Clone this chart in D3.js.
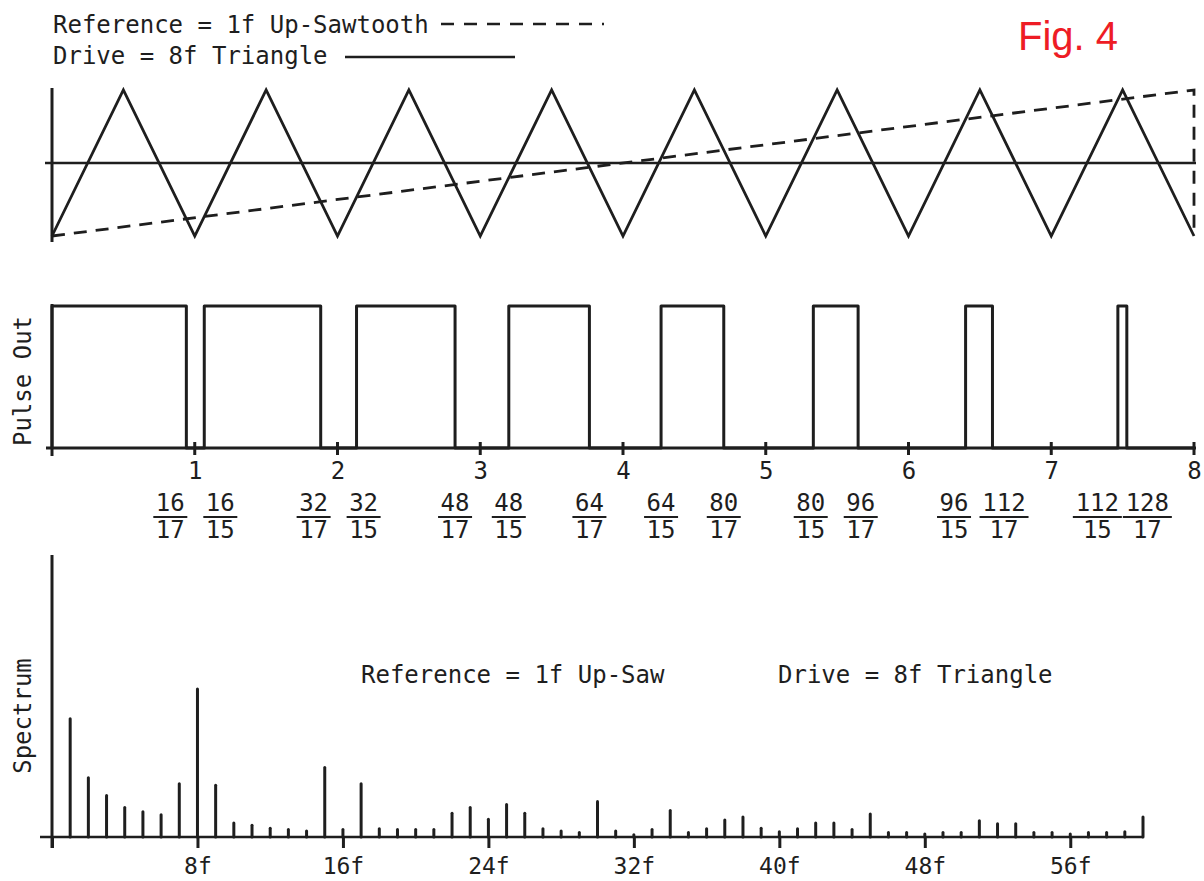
<!DOCTYPE html>
<html>
<head>
<meta charset="utf-8">
<script src="https://cdn.jsdelivr.net/npm/d3@7"></script>
<style>
  html, body { margin: 0; padding: 0; background: #ffffff; }
  svg { display: block; }
  .mono { font-family: "DejaVu Sans Mono", "Liberation Mono", monospace; fill: #1e1e1e; }
</style>
</head>
<body>
<svg id="fig" width="1204" height="881"></svg>
<script>
// ---- Waveforms (time in units of the 1f reference period / 8) ----
const driveTimes  = [0, 0.5, 1, 1.5, 2, 2.5, 3, 3.5, 4, 4.5, 5, 5.5, 6, 6.5, 7, 7.5, 8];
const driveLevels = [-1, 1, -1, 1, -1, 1, -1, 1, -1, 1, -1, 1, -1, 1, -1, 1, -1];
const refTimes    = [0, 8, 8];
const refLevels   = [-1, 1, -1];

// ---- Pulse edges: crossings of triangle and saw, as fractions ----
const edgeNumerators   = [16, 16, 32, 32, 48, 48, 64, 64, 80, 80, 96, 96, 112, 112, 128];
const edgeDenominators = [17, 15, 17, 15, 17, 15, 17, 15, 17, 15, 17, 15, 17, 15, 17];
const pulseStartLevel  = 1;
const timeTicks = [1, 2, 3, 4, 5, 6, 7, 8];

// ---- Spectrum: relative amplitude of harmonics 1f..60f ----
const harmonics = d3.range(1, 61);
const spectrumAmplitude = [
  0.80, 0.40, 0.28, 0.20, 0.17, 0.15, 0.36, 1.00, 0.35, 0.095,
  0.08, 0.06, 0.05, 0.04, 0.47, 0.05, 0.36, 0.055, 0.05, 0.05,
  0.05, 0.16, 0.20, 0.12, 0.22, 0.16, 0.055, 0.04, 0.03, 0.24,
  0.04, 0.015, 0.05, 0.18, 0.03, 0.055, 0.115, 0.135, 0.06, 0.035,
  0.055, 0.095, 0.095, 0.05, 0.155, 0.03, 0.03, 0.02, 0.03, 0.03,
  0.11, 0.09, 0.09, 0.03, 0.03, 0.02, 0.03, 0.03, 0.035, 0.135
];
const spectrumTicks = [0, 8, 16, 24, 32, 40, 48, 56];
const spectrumTickLabels = ["", "8f", "16f", "24f", "32f", "40f", "48f", "56f"];

const ink = "#1e1e1e";
const svg = d3.select("#fig");

// ---------- Legend and figure number ----------
svg.append("text").attr("class", "mono").attr("x", 53).attr("y", 33)
  .attr("font-size", 24).text("Reference = 1f Up-Sawtooth");
svg.append("text").attr("class", "mono").attr("x", 53).attr("y", 64)
  .attr("font-size", 24).text("Drive = 8f Triangle");
svg.append("line").attr("x1", 441).attr("x2", 604).attr("y1", 24).attr("y2", 24)
  .attr("stroke", ink).attr("stroke-width", 2.5).attr("stroke-dasharray", "13,10");
svg.append("line").attr("x1", 345).attr("x2", 515).attr("y1", 57).attr("y2", 57)
  .attr("stroke", ink).attr("stroke-width", 2.5);
svg.append("text").attr("x", 1018).attr("y", 50)
  .attr("font-family", "'Liberation Sans', Arial, sans-serif").attr("font-size", 40)
  .attr("fill", "#ee1c25").text("Fig. 4");

// ---------- Top panel: drive triangle vs reference saw ----------
const tx = d3.scaleLinear().domain([0, 8]).range([52, 1194]);
const wy = d3.scaleLinear().domain([-1, 1]).range([236, 90]);

const wavePanel = svg.append("g");
wavePanel.append("line").attr("x1", tx(0)).attr("x2", tx(0)).attr("y1", 88).attr("y2", 242)
  .attr("stroke", ink).attr("stroke-width", 3);
wavePanel.append("line").attr("x1", tx(0) - 7).attr("x2", tx(8) + 2).attr("y1", wy(0)).attr("y2", wy(0))
  .attr("stroke", ink).attr("stroke-width", 2.5);

const waveLine = d3.line().x(d => tx(d[0])).y(d => wy(d[1]));
wavePanel.append("path")
  .attr("d", waveLine(d3.zip(refTimes, refLevels)))
  .attr("fill", "none").attr("stroke", ink).attr("stroke-width", 2.8)
  .attr("stroke-dasharray", "13,9");
wavePanel.append("path")
  .attr("d", waveLine(d3.zip(driveTimes, driveLevels)))
  .attr("fill", "none").attr("stroke", ink).attr("stroke-width", 2.8)
  .attr("stroke-linejoin", "miter");

// ---------- Middle panel: pulse output ----------
const py = d3.scaleLinear().domain([0, 1]).range([448, 306]);
const edges = edgeNumerators.map((n, i) => n / edgeDenominators[i]);

// Build the step sequence from the edge times
const pulsePts = [[0, 0], [0, pulseStartLevel]];
let level = pulseStartLevel;
edges.forEach(t => {
  pulsePts.push([t, level]);
  level = 1 - level;
  pulsePts.push([t, level]);
});
pulsePts.push([8, level]);

const pulsePanel = svg.append("g");
pulsePanel.append("line").attr("x1", tx(0)).attr("x2", tx(0)).attr("y1", py(1) - 2).attr("y2", py(0) + 8)
  .attr("stroke", ink).attr("stroke-width", 3);
const tAxis = d3.axisBottom(tx).tickValues(timeTicks).tickSize(0).tickFormat(d3.format("d"));
const tAxisG = pulsePanel.append("g").attr("transform", `translate(0,${py(0)})`).call(tAxis);
tAxisG.select(".domain").remove();
tAxisG.selectAll("text").attr("class", "mono").attr("font-size", 24).attr("dy", 0).attr("y", 31)
  .attr("font-family", null);
pulsePanel.append("line").attr("x1", tx(0) - 6).attr("x2", tx(8) + 2).attr("y1", py(0)).attr("y2", py(0))
  .attr("stroke", ink).attr("stroke-width", 3);
pulsePanel.selectAll("line.tk").data(timeTicks).join("line").attr("class", "tk")
  .attr("x1", d => tx(d)).attr("x2", d => tx(d))
  .attr("y1", py(0) - 6).attr("y2", py(0) + 7)
  .attr("stroke", ink).attr("stroke-width", 3);
pulsePanel.append("path")
  .attr("d", d3.line().x(d => tx(d[0])).y(d => py(d[1]))(pulsePts))
  .attr("fill", "none").attr("stroke", ink).attr("stroke-width", 3)
  .attr("stroke-linejoin", "round");

svg.append("text").attr("class", "mono").attr("font-size", 24)
  .attr("text-anchor", "middle")
  .attr("transform", "translate(31,381) rotate(-90)").text("Pulse Out");

// Fraction labels: start at each edge, then push crowded neighbours apart
const minGap = 50;
const labelX = edges.map(t => tx(t));
for (let i = 0; i < labelX.length - 1; i++) {
  if (labelX[i + 1] - labelX[i] < minGap) {
    const m = (labelX[i] + labelX[i + 1]) / 2;
    labelX[i] = m - minGap / 2;
    labelX[i + 1] = m + minGap / 2;
  }
}
const frac = svg.append("g").selectAll("g").data(edges).join("g")
  .attr("transform", (d, i) => `translate(${labelX[i]},0)`);
frac.append("text").attr("class", "mono").attr("font-size", 24).attr("text-anchor", "middle")
  .attr("y", 511).text((d, i) => edgeNumerators[i]);
frac.append("line")
  .attr("x1", (d, i) => -(String(edgeNumerators[i]).length * 7.5 + 2))
  .attr("x2", (d, i) => (String(edgeNumerators[i]).length * 7.5 + 2))
  .attr("y1", 517).attr("y2", 517).attr("stroke", ink).attr("stroke-width", 2);
frac.append("text").attr("class", "mono").attr("font-size", 24).attr("text-anchor", "middle")
  .attr("y", 538).text((d, i) => edgeDenominators[i]);

// ---------- Bottom panel: spectrum ----------
const sx = d3.scaleLinear().domain([0, 60]).range([52, 1143]);
const sy = d3.scaleLinear().domain([0, 1.9]).range([837, 556]);

const specPanel = svg.append("g");
specPanel.append("line").attr("x1", sx(0)).attr("x2", sx(0)).attr("y1", 555).attr("y2", 848)
  .attr("stroke", ink).attr("stroke-width", 3);
specPanel.append("line").attr("x1", sx(0) - 12).attr("x2", sx(60)).attr("y1", sy(0)).attr("y2", sy(0))
  .attr("stroke", ink).attr("stroke-width", 2.5);

const sAxis = d3.axisBottom(sx).tickValues(spectrumTicks).tickSize(11)
  .tickFormat((d, i) => spectrumTickLabels[i]);
const sAxisG = specPanel.append("g").attr("transform", `translate(0,${sy(0)})`).call(sAxis);
sAxisG.select(".domain").remove();
sAxisG.selectAll(".tick line").attr("stroke", ink).attr("stroke-width", 3);
sAxisG.selectAll("text").attr("class", "mono").attr("font-size", 23)
  .attr("font-family", null).attr("y", 37).attr("dy", 0);

specPanel.selectAll("line.bar").data(harmonics).join("line").attr("class", "bar")
  .attr("x1", d => sx(d)).attr("x2", d => sx(d))
  .attr("y1", sy(0)).attr("y2", (d, i) => sy(spectrumAmplitude[i]))
  .attr("stroke", ink).attr("stroke-width", 3).attr("stroke-linecap", "round");

svg.append("text").attr("class", "mono").attr("font-size", 24)
  .attr("text-anchor", "middle")
  .attr("transform", "translate(31,716) rotate(-90)").text("Spectrum");
svg.append("text").attr("class", "mono").attr("font-size", 24)
  .attr("x", 361).attr("y", 683).text("Reference = 1f Up-Saw");
svg.append("text").attr("class", "mono").attr("font-size", 24)
  .attr("x", 778).attr("y", 683).text("Drive = 8f Triangle");
</script>
</body>
</html>
